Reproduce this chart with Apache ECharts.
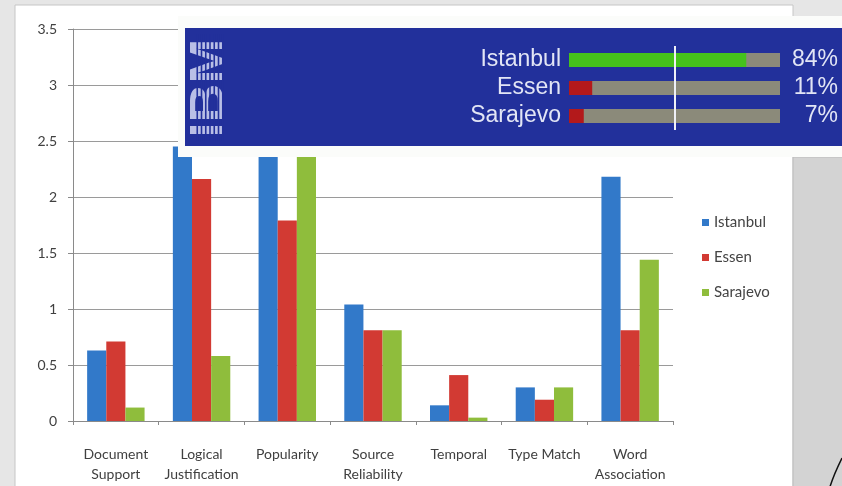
<!DOCTYPE html>
<html>
<head>
<meta charset="utf-8">
<script src="https://cdn.jsdelivr.net/npm/echarts@6/dist/echarts.min.js"></script>
<style>
  html, body { margin: 0; padding: 0; background: #e6e6e6; }
  #chart { width: 842px; height: 486px; }
</style>
</head>
<body>
<div id="chart"></div>
<script>
// Answer-type scores per candidate city
const categories = [
  'Document\nSupport',
  'Logical\nJustification',
  'Popularity',
  'Source\nReliability',
  'Temporal',
  'Type Match',
  'Word\nAssociation'
];
const seriesNames = ['Istanbul', 'Essen', 'Sarajevo'];
const istanbul = [0.63, 2.45, 2.90, 1.04, 0.14, 0.30, 2.18];
const essen    = [0.71, 2.16, 1.79, 0.81, 0.41, 0.19, 0.81];
const sarajevo = [0.12, 0.58, 2.70, 0.81, 0.03, 0.30, 1.44];

// Confidence panel: share per candidate, with the 50% threshold line
const panelCities = ['Istanbul', 'Essen', 'Sarajevo'];
const panelShares = [84, 11, 7];
const panelThreshold = 50;

const FONT = 'Lato';
const TEXT = '#404040';
const AXIS = '#8a8a8a';
const PANEL_BLUE = '#22309b';
const PANEL_TEXT = '#e2e5f5';

const chart = echarts.init(document.getElementById('chart'), null, { renderer: 'canvas' });

// Vertical stripes across the rotated logo
const logoStripes = [];
for (let k = 1; k < 8; k++) {
  const x = 193 + k * 34 / 8;
  logoStripes.push({
    type: 'line', z: 3, z2: 3, silent: true,
    shape: { x1: x, y1: 34, x2: x, y2: 141 },
    style: { stroke: PANEL_BLUE, lineWidth: 1.6 }
  });
}

const option = {
  animation: false,
  backgroundColor: '#e6e6e6',
  textStyle: { fontFamily: FONT },
  color: ['#3279c9', '#d23a33', '#8fbd3c'],
  legend: {
    orient: 'vertical',
    left: 697,
    top: 210,
    itemWidth: 7,
    itemHeight: 7,
    itemGap: 20,
    icon: 'rect',
    data: seriesNames,
    textStyle: { fontFamily: FONT, fontSize: 15, color: '#444' }
  },
  grid: [
    { left: 73, right: 169, top: 29, bottom: 65 },
    { left: 569, right: 62, top: 46, height: 84 }
  ],
  xAxis: [
    {
      type: 'category',
      gridIndex: 0,
      data: categories,
      axisLine: { lineStyle: { color: AXIS } },
      axisTick: { show: true, length: 4, lineStyle: { color: AXIS } },
      axisLabel: { interval: 0, margin: 23, lineHeight: 20, fontSize: 14, color: TEXT, fontFamily: FONT }
    },
    { type: 'value', gridIndex: 1, min: 0, max: 100, show: false }
  ],
  yAxis: [
    {
      type: 'value',
      gridIndex: 0,
      min: 0,
      max: 3.5,
      interval: 0.5,
      axisLine: { show: true, lineStyle: { color: AXIS } },
      axisTick: { show: true, length: 5, lineStyle: { color: AXIS } },
      splitLine: { lineStyle: { color: '#9a9a9a' } },
      axisLabel: { margin: 16, fontSize: 14, color: TEXT, fontFamily: FONT }
    },
    {
      type: 'category',
      gridIndex: 1,
      data: panelCities,
      inverse: true,
      z: 4,
      axisLine: { show: false },
      axisTick: { show: false },
      splitLine: { show: false },
      axisLabel: { interval: 0, hideOverlap: false, margin: 8, fontSize: 23, color: PANEL_TEXT, fontFamily: 'Liberation Sans' }
    },
    {
      type: 'category',
      gridIndex: 1,
      position: 'right',
      data: panelShares.map(v => v + '%'),
      inverse: true,
      z: 4,
      axisLine: { show: false },
      axisTick: { show: false },
      splitLine: { show: false },
      axisLabel: { interval: 0, hideOverlap: false, margin: 58, align: 'right', fontSize: 23, color: PANEL_TEXT, fontFamily: 'Liberation Sans' }
    }
  ],
  series: [
    { name: 'Istanbul', type: 'bar', xAxisIndex: 0, yAxisIndex: 0, data: istanbul, barGap: '0%', barCategoryGap: '33%' },
    { name: 'Essen',    type: 'bar', xAxisIndex: 0, yAxisIndex: 0, data: essen,    barGap: '0%', barCategoryGap: '33%' },
    { name: 'Sarajevo', type: 'bar', xAxisIndex: 0, yAxisIndex: 0, data: sarajevo, barGap: '0%', barCategoryGap: '33%' },
    {
      name: 'share',
      type: 'bar',
      xAxisIndex: 1,
      yAxisIndex: 1,
      data: panelShares,
      barWidth: 14,
      z: 4,
      silent: true,
      showBackground: true,
      backgroundStyle: { color: '#8b8a7a' },
      itemStyle: { color: p => (p.value >= panelThreshold ? '#45c21c' : '#b3191b') },
      markLine: {
        z: 6,
        silent: true,
        symbol: 'none',
        label: { show: false },
        lineStyle: { color: '#eef0f7', width: 2, type: 'solid' },
        data: [{ xAxis: panelThreshold }]
      }
    }
  ],
  graphic: {
    elements: [
      // slide panel behind the chart
      {
        type: 'rect', z: -10, silent: true,
        shape: { x: 15, y: 5, width: 778, height: 500 },
        style: { fill: '#ffffff', stroke: '#c6c6c6', lineWidth: 1 }
      },
      {
        type: 'rect', z: -10, silent: true,
        shape: { x: 793, y: 157, width: 60, height: 340 },
        style: { fill: '#d3d3d3', stroke: '#bcbcbc', lineWidth: 1 }
      },
      // confidence panel frame and backdrop
      {
        type: 'rect', z: 3, z2: 0, silent: true,
        shape: { x: 178, y: 16, width: 680, height: 141 },
        style: { fill: '#fbfcfa' }
      },
      {
        type: 'rect', z: 3, z2: 1, silent: true,
        shape: { x: 185, y: 28, width: 670, height: 118 },
        style: { fill: PANEL_BLUE }
      },
      // logo, read bottom-to-top
      {
        type: 'text', z: 3, z2: 2, silent: true,
        x: 210, y: 88,
        rotation: Math.PI / 2,
        scaleY: 0.88,
        style: {
          text: 'IBM',
          fill: '#b9bfe6',
          font: 'bold 54px "Liberation Sans"',
          align: 'center',
          verticalAlign: 'middle'
        }
      },
      ...logoStripes,
      // page curl stroke in the corner
      {
        type: 'bezierCurve', z: 1, silent: true,
        shape: { x1: 829, y1: 490, x2: 842, y2: 458, cpx1: 833, cpy1: 476, cpx2: 838, cpy2: 466 },
        style: { stroke: '#111', lineWidth: 1.5, fill: null }
      }
    ]
  }
};

chart.setOption(option);
</script>
</body>
</html>
